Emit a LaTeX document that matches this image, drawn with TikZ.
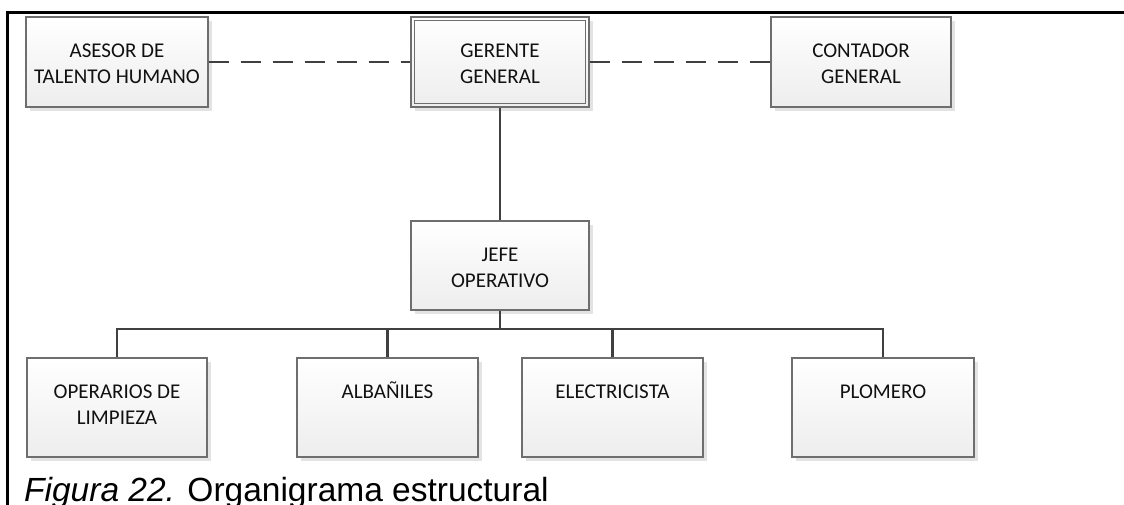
\documentclass[tikz,border=0pt]{standalone}
\usepackage{fontspec}
\newfontfamily\boxfont{Carlito}
\newfontfamily\capfont{Liberation Sans}
\usetikzlibrary{shadows}
\definecolor{conncol}{HTML}{404040}
\definecolor{bordercol}{HTML}{6E6E6E}
\definecolor{txtcol}{HTML}{111111}
\tikzset{
  orgbox/.style={draw=bordercol, line width=1.2pt, top color=white, bottom color=black!7,
    rectangle, inner sep=0pt,
    drop shadow={shadow xshift=3.5pt, shadow yshift=-3.5pt, fill=black!11, opacity=1}},
  lbl/.style={anchor=north, inner sep=0pt, align=center, text=txtcol,
    font=\boxfont\fontsize{21}{26}\selectfont},
  conn/.style={draw=conncol, line width=2.4pt},
  dconn/.style={conn, dash pattern=on 20pt off 12pt},
}
\begin{document}
\begin{tikzpicture}[x=1pt,y=-1pt]
\useasboundingbox (0,0) rectangle (1124,504);
\fill[white] (0,0) rectangle (1124,504);
% frame
\draw[line width=2.6pt, line cap=rect] (7.5,505) -- (7.5,12.5) -- (1126,12.5);
% boxes
\node[orgbox, minimum width=182pt, minimum height=90pt] (ases) at (117,62) {};
\node[orgbox, minimum width=178pt, minimum height=90pt] (ger) at (500,62) {};
\node[orgbox, minimum width=180pt, minimum height=90pt] (cont) at (861,62) {};
\node[orgbox, minimum width=178pt, minimum height=89pt] (jefe) at (500,265.5) {};
\node[orgbox, minimum width=180pt, minimum height=99pt] (op) at (117,407.5) {};
\node[orgbox, minimum width=181pt, minimum height=99pt] (alb) at (387.5,407.5) {};
\node[orgbox, minimum width=181pt, minimum height=99pt] (ele) at (612.5,407.5) {};
\node[orgbox, minimum width=182pt, minimum height=99pt] (plo) at (883,407.5) {};
\draw[draw=bordercol, line width=1.2pt] ([shift={(4,4)}]ger.north west) rectangle ([shift={(-4,-4)}]ger.south east);
% labels
\node[lbl] (tases) at ([yshift=-23pt]ases.north) {\rule{0pt}{18pt}ASESOR DE\\TALENTO HUMANO};
\node[lbl] (tger) at ([yshift=-23pt]ger.north) {\rule{0pt}{18pt}GERENTE\\GENERAL};
\node[lbl] (tcont) at ([yshift=-23pt]cont.north) {\rule{0pt}{18pt}CONTADOR\\GENERAL};
\node[lbl] (tjefe) at ([yshift=-23pt]jefe.north) {\rule{0pt}{18pt}JEFE\\OPERATIVO};
\node[lbl] (top) at ([yshift=-23pt]op.north) {\rule{0pt}{18pt}OPERARIOS DE\\LIMPIEZA};
\node[lbl] (talb) at ([yshift=-23pt]alb.north) {\rule{0pt}{18pt}ALBAÑILES};
\node[lbl] (tele) at ([yshift=-23pt]ele.north) {\rule{0pt}{18pt}ELECTRICISTA};
\node[lbl] (tplo) at ([yshift=-23pt]plo.north) {\rule{0pt}{18pt}PLOMERO};
% connectors
\coordinate (bus) at (500,329);
\draw[dconn] (ases.east) -- (ger.west);
\draw[dconn] (ger.east) -- (cont.west);
\draw[conn] (ger.south) -- (jefe.north);
\draw[conn] (jefe.south) -- (bus);
\draw[conn, line join=miter] (op.north) -- (op.north |- bus) -- (plo.north |- bus) -- (plo.north);
\draw[conn] (alb.north) -- (alb.north |- bus);
\draw[conn] (ele.north) -- (ele.north |- bus);
% caption
\node[anchor=base west, inner sep=0pt, font=\capfont\fontsize{33.5}{40}\selectfont] (cap) at (24,501) {\textit{Figura 22.} Organigrama estructural};
\end{tikzpicture}
\end{document}
